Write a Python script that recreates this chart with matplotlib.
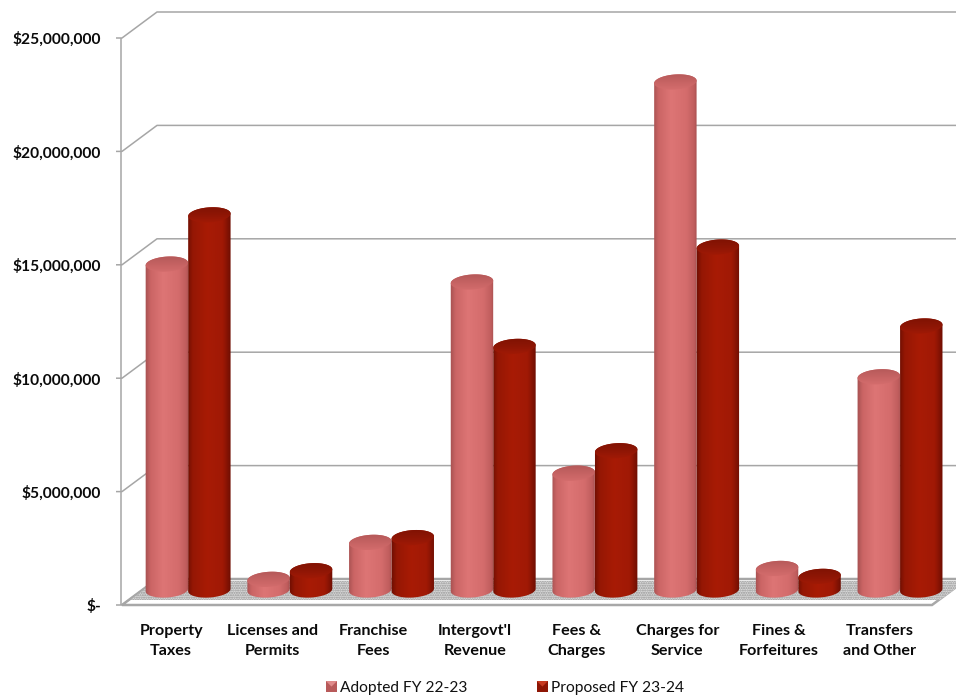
import numpy as np
import matplotlib
matplotlib.use("Agg")
import matplotlib.pyplot as plt
from matplotlib.colors import LinearSegmentedColormap
from matplotlib.legend_handler import HandlerBase
from matplotlib.patches import PathPatch, Polygon, Patch, Rectangle
from matplotlib.path import Path
from matplotlib.transforms import IdentityTransform, Affine2D

plt.rcParams["font.family"] = ["Lato", "DejaVu Sans"]

W, H = 956, 696

# Revenue categories and budget amounts in dollars
categories = ["Property\nTaxes", "Licenses and\nPermits", "Franchise\nFees",
              "Intergovt'l\nRevenue", "Fees &\nCharges", "Charges for\nService",
              "Fines &\nForfeitures", "Transfers\nand Other"]
adopted = [14370000, 470000, 2100000, 13580000, 5150000, 22400000, 950000, 9400000]
proposed = [16540000, 850000, 2310000, 10740000, 6140000, 15120000, 600000, 11640000]
series_names = ["Adopted FY 22-23", "Proposed FY 23-24"]
y_ticks = [0, 5000000, 10000000, 15000000, 20000000, 25000000]
y_tick_labels = ["$-", "$5,000,000", "$10,000,000", "$15,000,000", "$20,000,000", "$25,000,000"]

fig = plt.figure(figsize=(W / 100, H / 100), dpi=100, facecolor="white")
# Front plane of the 3-D box: x 122..932 px, y 38..605 px from the top
ax = fig.add_axes([122 / W, 1 - 605 / H, 810 / W, 567 / H])
ax.set_xlim(-0.5, 7.5)
ax.set_ylim(0, 25000000)
ax.set_autoscale_on(False)
ax.patch.set_visible(False)
for s in ax.spines.values():
    s.set_visible(False)
ax.set_xticks(range(8))
ax.set_xticklabels(categories, fontsize=11.6, fontweight="bold", linespacing=1.56, color="#0a0a0a")
ax.tick_params(axis="x", length=0, pad=13.5)
ax.set_yticks(y_ticks)
ax.set_yticklabels(y_tick_labels, fontsize=11.2, fontweight="bold", color="#0a0a0a")
ax.tick_params(axis="y", length=0, pad=15)
for label in ax.get_xticklabels():
    label.set_transform(label.get_transform() + Affine2D().translate(-1.5, 0))

DX, DY = 35, 26          # depth of the box in pixels
GRID = "#a6a6a6"
ident = IdentityTransform()


def to_px(x, y):
    return ax.transData.transform((x, y))


def line(xs, ys, **kw):
    ax.plot(xs, ys, transform=ident, clip_on=False, solid_capstyle="butt", **kw)


# Floor slab with stippled surface
x0, y0 = to_px(-0.5, 0)
x1, _ = to_px(7.5, 0)
floor = Polygon([(x0, y0), (x1, y0), (x1 + DX, y0 + DY), (x0 + DX, y0 + DY)],
                closed=True, transform=ident, facecolor="white", edgecolor="#a8a8a8",
                lw=1.8, clip_on=False, zorder=1)
ax.add_patch(floor)
stipple = Polygon([(x0 + 6, y0 + 5), (x1 + 8, y0 + 5), (x1 + DX - 1, y0 + DY - 2), (x0 + DX, y0 + DY - 2)],
                  closed=True, transform=ident, facecolor="#d9d9d9", edgecolor="#969696",
                  hatch=".......", lw=0, clip_on=False, zorder=1.1)
ax.add_patch(stipple)

# Back-wall gridlines, wall diagonals and axis ticks
for t in y_ticks:
    px, py = to_px(-0.5, t)
    line([px - 6, px, px + DX, W], [py, py, py + DY, py + DY], color=GRID, lw=1.1, zorder=1.5)
top_x, top_y = to_px(-0.5, 25000000)
line([top_x - 1, top_x - 1], [y0, top_y], color=GRID, lw=1.1, zorder=1.5)

adopted_cmap = LinearSegmentedColormap.from_list(
    "adopted", [(0, "#a65050"), (0.12, "#cb6565"), (0.4, "#dd7575"),
                (0.75, "#d46c6c"), (0.92, "#c05e5e"), (1, "#a04c4c")])
proposed_cmap = LinearSegmentedColormap.from_list(
    "proposed", [(0, "#6d0e02"), (0.12, "#951704"), (0.45, "#a81b05"),
                 (0.8, "#a01905"), (1, "#6a0d02")])
adopted_cap = LinearSegmentedColormap.from_list("adopted_cap", ["#b25858", "#c66363", "#d66e6e"])
proposed_cap = LinearSegmentedColormap.from_list("proposed_cap", ["#7e1203", "#8e1605", "#a41a05"])
gradient = np.linspace(0, 1, 64).reshape(1, -1)
cap_gradient = np.linspace(0, 1, 32).reshape(-1, 1)

BAR_W = 42.5
SEMI_B = 7.5
TILT = 4


def ellipse_arc(cx, cy, start, stop, n=40):
    t = np.radians(np.linspace(start, stop, n))
    ex = BAR_W / 2 * np.cos(t)
    ey = SEMI_B * np.sin(t)
    a = np.radians(TILT)
    return np.column_stack([cx + ex * np.cos(a) - ey * np.sin(a),
                            cy + ex * np.sin(a) + ey * np.cos(a)])


def clipped_image(data, cmap, extent, outline, z):
    clip = PathPatch(Path(np.vstack([outline, outline[:1]]), closed=True), transform=ident,
                     facecolor="none", edgecolor="none", zorder=z)
    ax.add_patch(clip)
    im = ax.imshow(data, cmap=cmap, aspect="auto", transform=ident, zorder=z, extent=extent,
                   origin="lower", interpolation="bilinear")
    im.set_clip_box(fig.bbox)
    im.set_clip_path(clip)


def cylinder(index, x_value, height, cmap, cap_cmap, z):
    # Base sits at the mid depth of the box, so shift the scale position into it
    cx, base_y = to_px(x_value, 0)
    _, top_y = to_px(x_value, height)
    cx += 15.5 + 0.45 * index
    base_y += 15
    top_y += 15
    left, right = cx - BAR_W / 2 - 1, cx + BAR_W / 2 + 1
    body = np.vstack([ellipse_arc(cx, base_y, 180, 360), ellipse_arc(cx, top_y, 0, 180)])
    clipped_image(gradient, cmap, (left, right, base_y - SEMI_B - 4, top_y + SEMI_B + 4), body, z)
    # The cap fades from the back edge into the body colour at its front
    cap = ellipse_arc(cx, top_y, 0, 360, 80)
    clipped_image(cap_gradient[::-1], cap_cmap,
                  (left, right, top_y - SEMI_B - 2, top_y + SEMI_B + 2), cap, z + 0.02)


step = 42.5 / 101.25
for i, (a, p) in enumerate(zip(adopted, proposed)):
    cylinder(i, i - step / 2, a, adopted_cmap, adopted_cap, 3 + i * 0.1)
    cylinder(i, i + step / 2, p, proposed_cmap, proposed_cap, 3.05 + i * 0.1)


class BevelHandler(HandlerBase):
    """Small square swatch with a lighter triangle across its top."""

    def create_artists(self, legend, orig, xd, yd, width, height, fontsize, trans):
        square = Rectangle((-xd, -yd), width, height, transform=trans,
                           facecolor=orig.get_facecolor(), edgecolor="none")
        tri = Polygon([(-xd, height - yd), (width - xd, height - yd), (width / 2 - xd, height / 2 - yd)],
                      closed=True, transform=trans, facecolor=orig.get_edgecolor(), edgecolor="none")
        return [square, tri]


handles = [Patch(facecolor="#b85a5a", edgecolor="#e08a8a"),
           Patch(facecolor="#8e1605", edgecolor="#c83a20")]
fig.legend(handles, series_names, ncol=2, loc="center", bbox_to_anchor=(505 / W, 1 - 688 / H),
           frameon=False, fontsize=11.2, handlelength=0.72, handleheight=0.72, handletextpad=0.2,
           columnspacing=4.45, borderpad=0, labelcolor="#111111",
           handler_map={Patch: BevelHandler()})

fig.savefig("out.png", dpi=100)
